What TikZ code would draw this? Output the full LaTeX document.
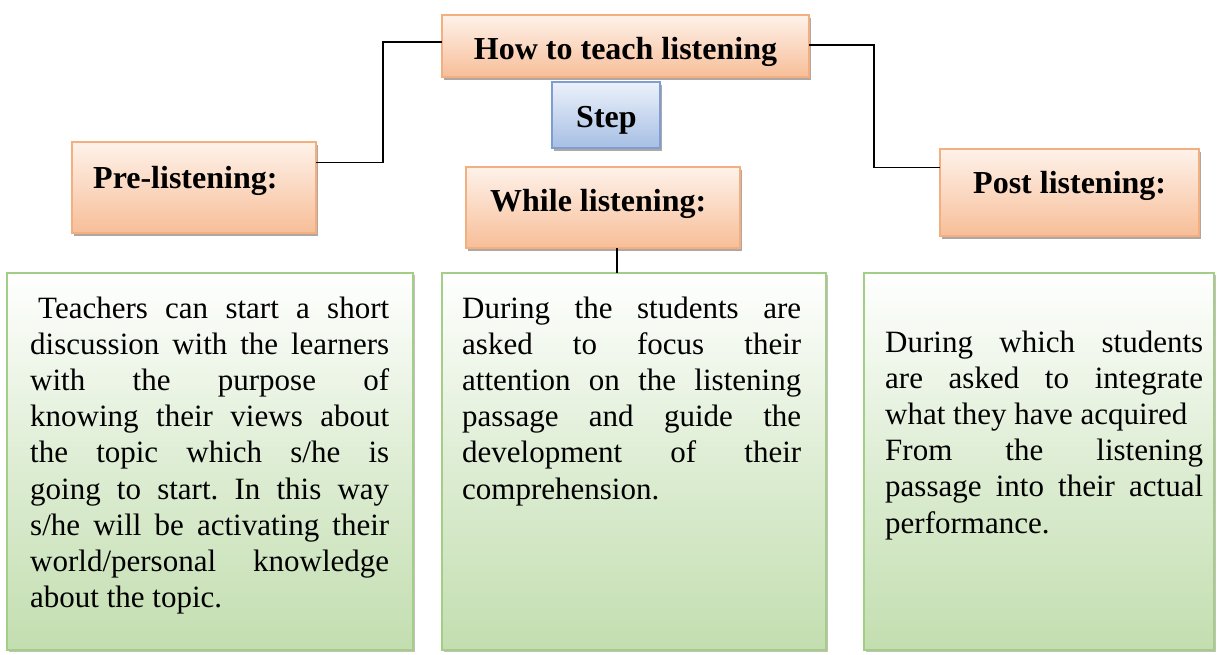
\documentclass[tikz,border=0pt]{standalone}
\usepackage{fontspec}
\setmainfont{Liberation Serif}
\usetikzlibrary{shadows}
\hbadness=10000
\hyphenpenalty=10000
\tolerance=10000
\frenchspacing
\newcommand\mybodyspace{\frenchspacing\spaceskip=0.25em plus 1.5em minus 0.05em\relax}
\definecolor{obord}{RGB}{243,175,128}
\definecolor{otop}{RGB}{254,242,234}
\definecolor{obot}{RGB}{247,190,152}
\definecolor{bbord}{RGB}{126,157,209}
\definecolor{btop}{RGB}{236,241,250}
\definecolor{bbot}{RGB}{166,191,228}
\definecolor{gbord}{RGB}{162,206,134}
\definecolor{gmid}{RGB}{222,237,212}
\definecolor{gbot}{RGB}{195,222,176}
\definecolor{shad}{RGB}{140,130,125}
\begin{document}
\begin{tikzpicture}[x=1pt,y=-1pt,
  obox/.style={draw=obord, line width=1.8pt, top color=otop, bottom color=obot,
    drop shadow={shadow xshift=1.5pt, shadow yshift=-2.5pt, fill=shad, opacity=0.7},
    inner sep=0, outer sep=0},
  bbox/.style={draw=bbord, line width=1.8pt, top color=btop, bottom color=bbot,
    drop shadow={shadow xshift=1.5pt, shadow yshift=-2.5pt, fill=shad, opacity=0.7},
    inner sep=0, outer sep=0},
  gbox/.style={draw=gbord, line width=2pt, top color=white, bottom color=gbot, middle color=gmid,
    drop shadow={shadow xshift=1.5pt, shadow yshift=-1.5pt, fill=shad, opacity=0.5},
    inner sep=0, outer sep=0},
  hd/.style={font=\fontsize{32}{38}\selectfont\bfseries, inner sep=0},
  body/.style={font=\fontsize{31}{36.2}\selectfont,
    inner sep=0, anchor=base west, align=justify},
  conn/.style={draw=black, line width=1.4pt}
]
\useasboundingbox (0,0) rectangle (1217,654);
% boxes
\node[obox, minimum width=367pt, minimum height=62pt] (top) at (625.5,46) {};
\node[bbox, minimum width=108pt, minimum height=66pt] (step) at (606,115) {};
\node[obox, minimum width=244pt, minimum height=91pt] (pre) at (194,187.5) {};
\node[obox, minimum width=274pt, minimum height=81pt] (while) at (603,207.5) {};
\node[obox, minimum width=259pt, minimum height=87pt] (post) at (1069.5,192.5) {};
\node[gbox, minimum width=406pt, minimum height=377pt] (g1) at (210,461.5) {};
\node[gbox, minimum width=384pt, minimum height=377pt] (g2) at (634,461.5) {};
\node[gbox, minimum width=350pt, minimum height=377pt] (g3) at (1039,461.5) {};
% connectors
\draw[conn] ([yshift=4pt]top.west) -- ++(-59,0) |- ([yshift=25pt]pre.east);
\draw[conn] ([yshift=1pt]top.east) -- ++(65,0) |- ([yshift=25pt]post.west);
\draw[conn] ([xshift=14pt]while.south) -- ([xshift=14pt]while.south |- g2.north);
% headings
\node[hd, anchor=base] (toptxt) at (625.5,59) {How to teach listening};
\node[hd, anchor=base west] (steptxt) at (576,127) {Step};
\node[hd, anchor=base west] (pretxt) at (93,188) {Pre-listening:};
\node[hd, anchor=base west] (whiletxt) at (490,211) {While listening:};
\node[hd, anchor=base west] (posttxt) at (973,193) {Post listening:};
% body texts
\node[body, text width=359pt] (t1) at (30,318) {\mybodyspace\hspace*{8pt}Teachers can start a short\linebreak
discussion with the learners\linebreak
with the purpose of\linebreak
knowing their views about\linebreak
the topic which s/he is\linebreak
going to start. In this way\linebreak
s/he will be activating their\linebreak
world/personal knowledge\linebreak
about the topic.};
\node[body, text width=339pt] (t2) at (462,318) {\mybodyspace During the students are\linebreak
asked to focus their\linebreak
attention on the listening\linebreak
passage and guide the\linebreak
development of their\linebreak
comprehension.};
\node[body, text width=318pt] (t3) at (885,352) {\mybodyspace During which students\linebreak
are asked to integrate\linebreak
what they have acquired\newline
From the listening\linebreak
passage into their actual\linebreak
performance.};
\end{tikzpicture}
\end{document}
